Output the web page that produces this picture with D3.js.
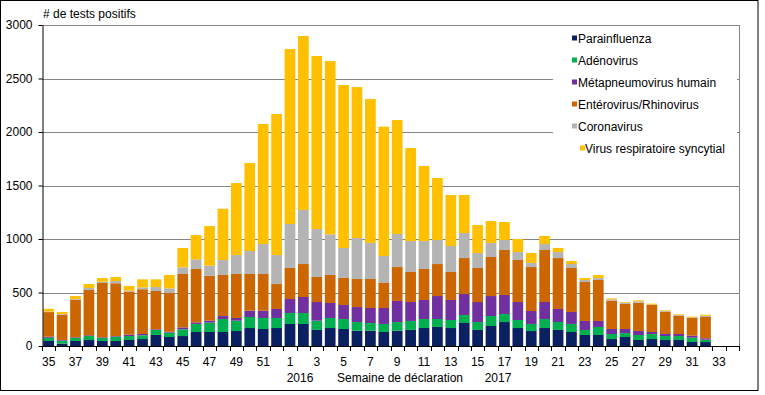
<!DOCTYPE html>
<html><head><meta charset="utf-8">
<script src="https://cdn.jsdelivr.net/npm/d3@7"></script>
<style>
html,body{margin:0;padding:0;background:#fff;}
text{font-family:"Liberation Sans",Arial,sans-serif;font-size:12px;fill:#000;}
</style></head>
<body><svg id="c" width="765" height="395"></svg>
<script>
const weeks = ["35","36","37","38","39","40","41","42","43","44","45","46","47","48","49","50","51","52",
"1","2","3","4","5","6","7","8","9","10","11","12","13","14","15","16","17","18","19","20","21","22","23","24","25","26","27","28","29","30","31","32","33","34"];
const parainfluenza = [47,22,47,56,47,47,56,65,103,84,93,131,131,131,140,168,159,168,
206,206,150,168,159,143,143,131,143,150,168,178,168,215,150,187,224,168,140,168,150,131,103,103,65,84,56,65,56,56,37,37,0,0];
const adenovirus = [30,28,28,37,28,40,37,35,47,41,63,75,87,121,97,103,103,94,
102,102,87,94,93,81,72,75,81,84,84,74,75,75,74,93,75,75,66,84,74,75,47,75,47,37,47,47,37,37,41,22,0,0];
const metapneumovirus = [10,6,6,7,6,6,13,12,6,9,18,15,19,28,25,59,68,84,
131,150,174,140,131,140,140,149,197,177,178,215,187,196,187,187,178,168,121,159,122,112,84,56,47,38,37,19,19,19,19,13,0,0];
const enterovirus = [230,237,352,423,508,493,402,418,358,361,499,499,420,384,411,343,343,233,
290,308,234,262,253,262,271,234,317,281,290,299,262,336,318,365,420,393,411,486,476,411,364,383,265,234,265,255,209,171,168,199,0,0];
const coronavirus = [5,6,6,19,12,21,9,18,37,44,62,90,94,140,177,215,280,271,
411,505,448,380,280,383,337,252,309,289,261,225,243,234,140,131,94,74,38,56,56,37,19,18,12,12,12,3,6,7,3,12,0,0];
const vrs = [25,19,28,37,34,38,44,75,72,125,181,227,370,479,673,822,1122,1318,
1636,1626,1617,1619,1523,1411,1345,1209,1065,869,701,579,476,355,262,205,168,122,93,75,38,28,18,28,9,6,10,7,6,6,6,10,0,0];
const seriesNames = ["Parainfluenza","Adénovirus","Métapneumovirus humain","Entérovirus/Rhinovirus","Coronavirus","Virus respiratoire syncytial"];
const seriesColors = ["#0a2060","#00b050","#7030a0","#cc6600","#b4b4b4","#ffc000"];
const yTicks = [0,500,1000,1500,2000,2500,3000];
const yTitle = "# de tests positifs";
const xTitle = "Semaine de déclaration";
const yearLabels = ["2016","2017"];

const seriesData = [parainfluenza,adenovirus,metapneumovirus,enterovirus,coronavirus,vrs];
const keys = seriesNames;
const table = weeks.map((w,i)=>{const o={week:w}; keys.forEach((k,j)=>o[k]=seriesData[j][i]); return o;});

const svg = d3.select("#c");
const L=42, R=739, T=25, B=346;
svg.append("rect").attr("x",0.5).attr("y",0.5).attr("width",757.5).attr("height",390).attr("fill","#fff").attr("stroke","#000").attr("stroke-width",1);

const x = d3.scaleBand().domain(weeks).range([L,R]).paddingInner(0.2).paddingOuter(0.1);
const y = d3.scaleLinear().domain([0,3000]).range([B,T]);

// gridlines
svg.append("g").selectAll("line").data(yTicks.filter(d=>d>0)).join("line")
  .attr("x1",L).attr("x2",R).attr("y1",d=>Math.round(y(d))+0.5).attr("y2",d=>Math.round(y(d))+0.5)
  .attr("stroke","#868686").attr("stroke-width",1);
svg.append("line").attr("x1",R+0.5).attr("x2",R+0.5).attr("y1",T).attr("y2",B).attr("stroke","#868686");

// bars
const stack = d3.stack().keys(keys)(table);
svg.append("g").selectAll("g").data(stack).join("g").attr("fill",(d,i)=>seriesColors[i])
  .selectAll("rect").data(d=>d).join("rect")
  .attr("x",d=>x(d.data.week)).attr("width",x.bandwidth())
  .attr("y",d=>y(d[1])).attr("height",d=>Math.max(0,y(d[0])-y(d[1])));

// y axis
const ya = svg.append("g").attr("transform",`translate(${L+0.5},0)`)
  .call(d3.axisLeft(y).tickValues(yTicks).tickSize(4).tickSizeOuter(0).tickPadding(6).tickFormat(d3.format("d")));
ya.selectAll("path,line").attr("stroke","#000");
ya.selectAll("text").attr("font-size",12).attr("font-family","Liberation Sans, Arial, sans-serif").attr("fill","#000");

// x axis
const step = x.step();
const bounds = d3.range(weeks.length+1).map(k=>L + k*step);
svg.append("line").attr("x1",L).attr("x2",R).attr("y1",B+0.5).attr("y2",B+0.5).attr("stroke","#000");
svg.append("g").selectAll("line").data(bounds).join("line")
  .attr("x1",d=>Math.round(d)+0.5).attr("x2",d=>Math.round(d)+0.5).attr("y1",B).attr("y2",B+5).attr("stroke","#000");
svg.append("g").selectAll("text").data(weeks.filter((w,i)=>i%2===0)).join("text")
  .attr("x",d=>x(d)+x.bandwidth()/2).attr("y",366).attr("text-anchor","middle").text(d=>d);

svg.append("text").attr("x",300).attr("y",382).attr("text-anchor","middle").text(yearLabels[0]);
svg.append("text").attr("x",400).attr("y",382).attr("text-anchor","middle").text(xTitle);
svg.append("text").attr("x",498).attr("y",382).attr("text-anchor","middle").text(yearLabels[1]);
svg.append("text").attr("x",43).attr("y",18).text(yTitle);

// legend
const lg = svg.append("g");
lg.append("rect").attr("x",553).attr("y",29).attr("width",184).attr("height",141).attr("fill","#fff");
seriesNames.forEach((n,i)=>{
  const cy = 38 + i*22;
  const last = i===seriesNames.length-1;
  lg.append("rect").attr("x",last?580:572).attr("y",cy-2.5).attr("width",5).attr("height",5).attr("fill",seriesColors[i]);
  lg.append("text").attr("x",last?585:578).attr("y",cy+4.5).text(n);
});
</script></body></html>
